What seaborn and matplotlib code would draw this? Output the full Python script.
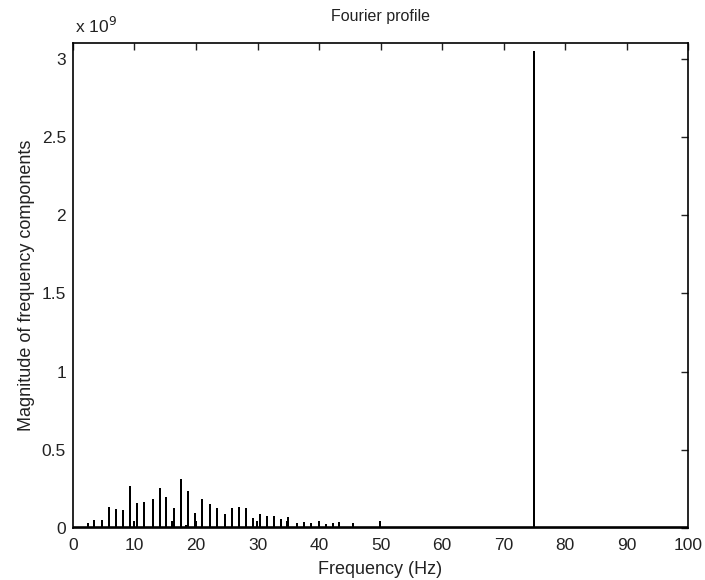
import matplotlib
matplotlib.use("Agg")
import matplotlib.pyplot as plt
import matplotlib.ticker as mticker
import numpy as np
import pandas as pd
import seaborn as sns

# Spike frequencies (Hz) and magnitudes (x 1e9)
freqs = [2.4, 3.5, 4.7, 5.85, 7.0, 8.13, 9.3, 10.0, 10.46, 11.6, 12.95, 14.1, 15.2,
         16.15, 16.4, 17.5, 18.4, 18.7, 19.8, 20.05, 21.0, 22.2, 23.4, 24.7, 25.85,
         27.0, 28.1, 29.3, 29.97, 30.4, 31.6, 32.7, 33.9, 34.85, 35.0, 36.4, 37.6,
         38.7, 40.0, 41.1, 42.2, 43.3, 45.6, 49.97, 75.0]
mags = [0.028, 0.047, 0.047, 0.13, 0.113, 0.111, 0.26, 0.038, 0.156, 0.158, 0.177,
        0.25, 0.194, 0.038, 0.122, 0.305, 0.012, 0.233, 0.092, 0.038, 0.18, 0.15,
        0.124, 0.085, 0.122, 0.13, 0.122, 0.06, 0.038, 0.085, 0.068, 0.068, 0.049,
        0.038, 0.062, 0.023, 0.03, 0.023, 0.036, 0.017, 0.023, 0.03, 0.023, 0.04,
        3.045]
xticks = list(range(0, 101, 10))
yticks = [0, 0.5, 1, 1.5, 2, 2.5, 3]

# build a stem-like trace: each spike goes baseline -> value -> baseline
xs, ys = [], []
for f, m in zip(freqs, mags):
    xs += [f, f, f]
    ys += [0.0, m, 0.0]
df = pd.DataFrame({"x": xs, "y": ys, "g": np.repeat(np.arange(len(freqs)), 3)})

sns.set_style("white")
plt.rcParams['font.family'] = ['Liberation Sans', 'DejaVu Sans']

fig = plt.figure(figsize=(7.05, 5.8), dpi=100)
ax = fig.add_axes([0.1035, 0.0897, 0.8725, 0.8362])

sns.lineplot(data=df, x="x", y="y", units="g", estimator=None, sort=False,
             color="black", linewidth=1.3, ax=ax, legend=False)
ax.axhline(0, color="black", linewidth=2.6, zorder=3)

ax.set_xlim(0, 100)
ax.set_ylim(0, 3.1)
ax.set_xticks(xticks)
ax.set_yticks(yticks)
ax.yaxis.set_major_formatter(mticker.FuncFormatter(lambda v, p: "%g" % v))
ax.tick_params(direction="in", length=5, width=1, colors="#222222", labelsize=12.5,
               top=True, right=True)
ax.tick_params(axis="x", pad=7)
ax.tick_params(axis="y", pad=5)
for s in ax.spines.values():
    s.set_visible(True)
    s.set_color("black")
    s.set_linewidth(1.2)

ax.set_xlabel("Frequency (Hz)", fontsize=13, labelpad=6, color="#222222")
ax.set_ylabel("Magnitude of frequency components", fontsize=13, labelpad=5,
              color="#222222")
ax.set_title("Fourier profile", fontsize=11.5, pad=16, color="#222222")
ax.text(0.003, 1.015, r"x 10$^{9}$", transform=ax.transAxes, fontsize=12.5,
        ha="left", va="bottom", color="#222222")

fig.savefig("out.png", dpi=100, facecolor="white")
